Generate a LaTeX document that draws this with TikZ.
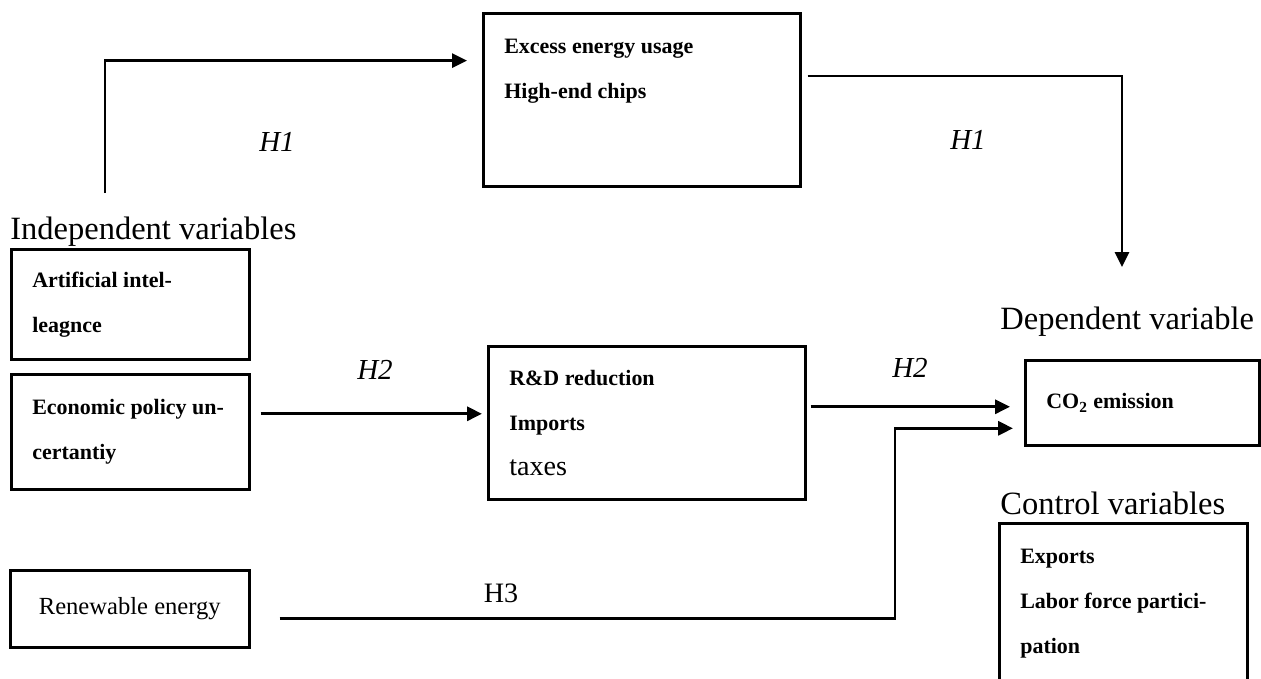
\documentclass[tikz,border=0pt]{standalone}
\usepackage{fontspec}
\setmainfont{Liberation Serif}
\usetikzlibrary{positioning, calc, arrows.meta}

\begin{document}
\begin{tikzpicture}[
            x=0.02cm, y=-0.02cm,
            varbox/.style={
                rectangle, draw=black, line width=1.5pt,
                anchor=north west, align=flush left,
                inner xsep=0.42cm, inner ysep=0.2cm,
                font=\bfseries\fontsize{12.5}{25.5}\selectfont
            },
            headtext/.style={anchor=west, inner sep=0pt, font=\fontsize{18.5}{20}\selectfont},
            hyplabel/.style={inner sep=0pt, font=\itshape\fontsize{16.5}{18}\selectfont},
            linkarrow/.style={line width=1.5pt, -{Triangle[length=8.5pt,width=8pt]}}
        ]
            \useasboundingbox (0,0) rectangle (1261,679);
            \clip (0,0) rectangle (1261,679);

            \node[varbox, text width=5.5cm, minimum height=3.46cm, inner ysep=0.52cm, text depth=2.12cm] (excess) at (482,12) {
                Excess energy usage\\
                High-end chips
            };

            \node[headtext] (indep) at (10,232) {Independent variables};
            \node[varbox, text width=3.92cm, minimum height=2.2cm] (ai) at (10,248) {
                Artificial intel-\\
                leagnce
            };
            \node[varbox, text width=3.92cm, minimum height=2.3cm] (epu) at (10,373) {
                Economic policy un-\\
                certantiy
            };
            \node[varbox, text width=3.94cm, minimum height=1.54cm, align=flush center, font=\fontsize{14}{16}\selectfont] (ren) at (9,569) {Renewable energy};

            \node[varbox, text width=5.5cm, minimum height=3.06cm] (rd) at (487,345) {
                R\&D reduction\\
                Imports\\
                {\mdseries\fontsize{16}{25.5}\selectfont taxes}
            };

            \node[headtext] (dep) at (1000,322) {Dependent variable};
            \node[varbox, text width=3.84cm, minimum height=1.7cm] (co2) at (1024,359) {CO\textsubscript{2} emission};

            \node[headtext] (ctrlhead) at (1000,503) {Control variables};
            \node[varbox, text width=4.12cm, minimum height=3.56cm, inner ysep=0.52cm, text depth=2.23cm] (ctrl) at (998,522) {
                Exports\\
                Labor force partici-\\
                pation
            };

            % H1 path through the top box
            \coordinate (h1start) at (105,193);
            \coordinate (h1end) at (1122,267);
            \draw[linkarrow, shorten >=0.3cm] (h1start) |- ($(excess.north west)!0.277!(excess.south west)$);
            \draw[linkarrow] ($(excess.north east)!0.364!(excess.south east)+(6,0)$) -| (h1end);
            \node[hyplabel] (h1a) at (277,142) {H1};
            \node[hyplabel] (h1b) at (968,140) {H1};

            % H2 path through the middle box
            \draw[linkarrow, shorten >=0.1cm] ($(epu.east)+(10,-18)$) coordinate (h2a) -- (h2a -| rd.west);
            \draw[linkarrow, shorten >=0.28cm] ($(rd.east)+(4,-16)$) coordinate (h2b) -- (h2b -| co2.west);
            \node[hyplabel] (h2l) at (375,370) {H2};
            \node[hyplabel] (h2r) at (910,368) {H2};

            % H3 direct path
            \coordinate (h3end) at ($(co2.west)+(0,25.5)$);
            \draw[linkarrow, shorten >=0.22cm] ($(ren.east)+(29,9.5)$) -| ($(h3end)+(-129,0)$) -- (h3end);
            \node[hyplabel, font=\fontsize{16}{18}\selectfont] (h3) at (501,593) {H3};
        \end{tikzpicture}
\end{document}
